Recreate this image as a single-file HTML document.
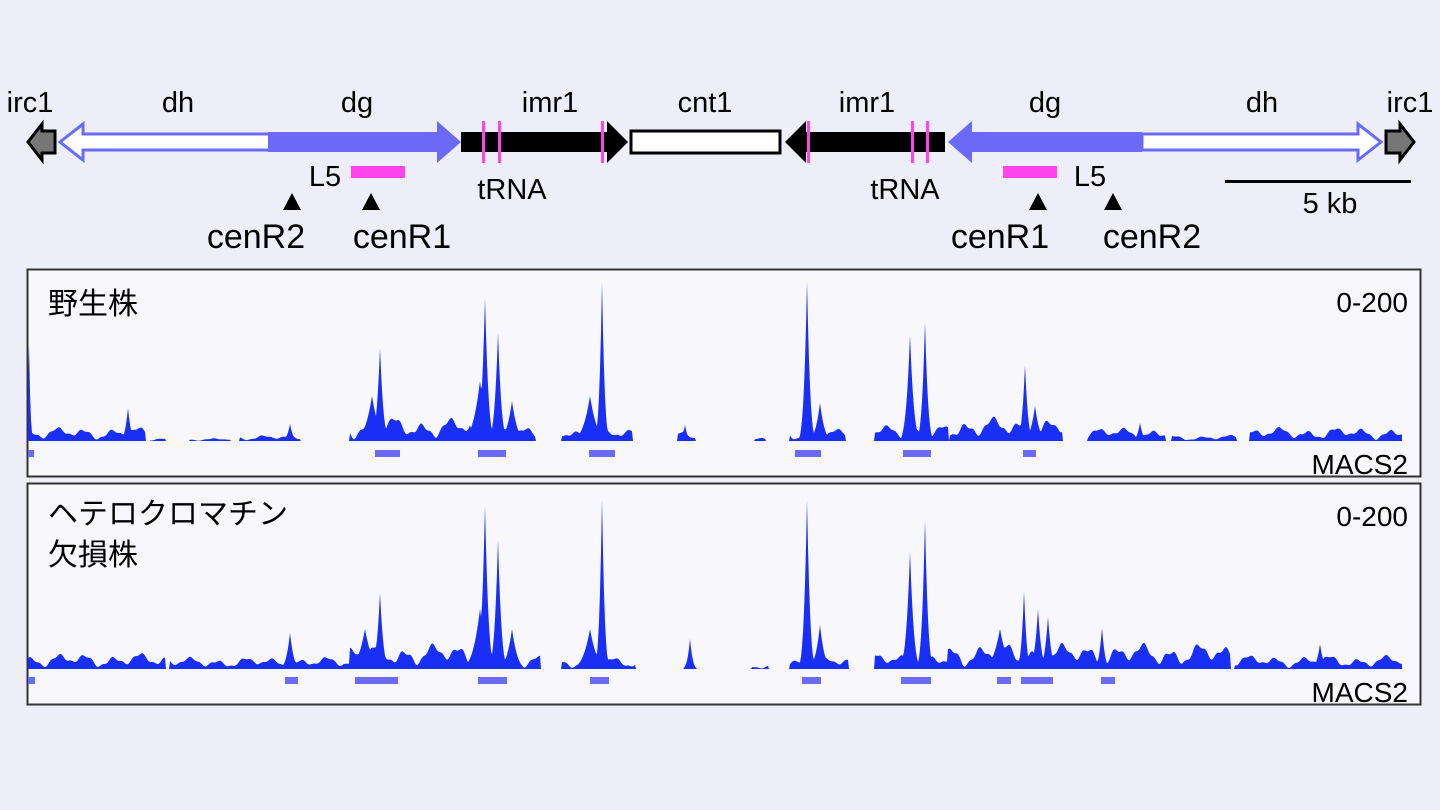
<!DOCTYPE html>
<html><head><meta charset="utf-8"><style>
body{margin:0;width:1440px;height:810px;background:#eeeef8;overflow:hidden;font-family:"Liberation Sans","Noto Sans CJK JP",sans-serif;}
svg{position:absolute;left:0;top:0}
text{font-family:"Liberation Sans","Noto Sans CJK JP",sans-serif;fill:#000}
</style></head><body>
<svg width="1440" height="810" viewBox="0 0 1440 810" xmlns="http://www.w3.org/2000/svg">
<g font-size="29" text-anchor="middle">
<text x="30" y="112">irc1</text><text x="178" y="112">dh</text><text x="357" y="112">dg</text>
<text x="550" y="112">imr1</text><text x="705" y="112">cnt1</text><text x="867" y="112">imr1</text>
<text x="1045" y="112">dg</text><text x="1262" y="112">dh</text><text x="1410" y="112">irc1</text>
<text x="325" y="186">L5</text><text x="512" y="199">tRNA</text>
<text x="905" y="199">tRNA</text><text x="1090" y="186">L5</text>
<text x="1330" y="213">5 kb</text>
</g>
<g font-size="34" text-anchor="middle">
<text x="256" y="248">cenR2</text><text x="402" y="248">cenR1</text>
<text x="1000" y="248">cenR1</text><text x="1152" y="248">cenR2</text>
</g>
<polygon points="55,131 42,131 42,124 28,142 42,160 42,153 55,153" fill="#777" stroke="#000" stroke-width="3"/>
<polygon points="270,134 83,134 83,124 60,142 83,160 83,150 270,150" fill="#fff" stroke="#6a6af7" stroke-width="3"/>
<polygon points="268,132 437,132 437,121 461,142 437,163 437,152 268,152" fill="#6a6af7"/>
<polygon points="461,132 607,132 607,121 628,142 607,163 607,152 461,152" fill="#000"/>
<rect x="482" y="121" width="3" height="42" fill="#ff44ee"/><rect x="498" y="121" width="3" height="42" fill="#ff44ee"/><rect x="601" y="121" width="3" height="42" fill="#ff44ee"/>
<rect x="631" y="131" width="149" height="22" fill="#fff" stroke="#000" stroke-width="3"/>
<polygon points="945,132 806,132 806,121 785,142 806,163 806,152 945,152" fill="#000"/>
<rect x="807" y="121" width="3" height="42" fill="#ff44ee"/><rect x="911" y="121" width="3" height="42" fill="#ff44ee"/><rect x="926" y="121" width="3" height="42" fill="#ff44ee"/>
<polygon points="1142,132 972,132 972,121 948,142 972,163 972,152 1142,152" fill="#6a6af7"/>
<polygon points="1142,134 1358,134 1358,124 1381,142 1358,160 1358,150 1142,150" fill="#fff" stroke="#6a6af7" stroke-width="3"/>
<polygon points="1386,131 1400,131 1400,124 1414,142 1400,160 1400,153 1386,153" fill="#777" stroke="#000" stroke-width="3"/>
<rect x="351" y="166" width="54" height="12" fill="#ff44ee"/>
<rect x="1003" y="166" width="54" height="12" fill="#ff44ee"/>
<polygon points="292,193 283,210 301,210" fill="#000"/><polygon points="371,193 362,210 380,210" fill="#000"/>
<polygon points="1038,193 1029,210 1047,210" fill="#000"/><polygon points="1113,193 1104,210 1122,210" fill="#000"/>
<rect x="1225" y="180" width="186" height="3" fill="#000"/>
<rect x="27.5" y="269.5" width="1393" height="207" fill="#f8f8fc" stroke="#333" stroke-width="2"/>
<rect x="27.5" y="483.5" width="1393" height="221" fill="#f8f8fc" stroke="#333" stroke-width="2"/>
<g font-size="30"><text x="48" y="314">野生株</text><text x="48" y="524">ヘテロクロマチン</text><text x="48" y="565">欠損株</text></g>
<g font-size="28" text-anchor="end"><text x="1408" y="312">0-200</text><text x="1408" y="526">0-200</text>
<text x="1408" y="474">MACS2</text><text x="1408" y="702">MACS2</text></g>
<path id="t1" fill="#1a2ff5"/>
<path id="t2" fill="#1a2ff5"/>
<g fill="#6a6af7">
<rect x="28" y="450" width="6" height="7"/><rect x="375" y="450" width="25" height="7"/><rect x="478" y="450" width="28" height="7"/><rect x="589" y="450" width="26" height="7"/><rect x="795" y="450" width="26" height="7"/><rect x="903" y="450" width="28" height="7"/><rect x="1023" y="450" width="13" height="7"/>
<rect x="28" y="677" width="7" height="7"/><rect x="285" y="677" width="13" height="7"/><rect x="355" y="677" width="43" height="7"/><rect x="478" y="677" width="29" height="7"/><rect x="590" y="677" width="19" height="7"/><rect x="802" y="677" width="19" height="7"/><rect x="901" y="677" width="30" height="7"/><rect x="997" y="677" width="14" height="7"/><rect x="1021" y="677" width="32" height="7"/><rect x="1101" y="677" width="14" height="7"/>
</g>
</svg>
<script>
function noise(x,s){return 0.55+0.25*Math.sin(x*0.23+s)+0.15*Math.sin(x*0.091+s*2)+0.08*Math.sin(x*0.61+s*3);}
function build(id,base,regs,peaks,seed){
  var d="M28,"+base;
  for(var x=28;x<=1402;x++){
    var h=0;
    for(var i=0;i<regs.length;i++){var r=regs[i];if(x>=r[0]&&x<=r[1]){h=Math.max(h,r[2]*noise(x,seed+i));}}
    for(var j=0;j<peaks.length;j++){var p=peaks[j];var dx=Math.abs(x-p[0]);if(dx<p[2]){var t=dx/p[2];h=Math.max(h,p[1]*(0.75*Math.pow(1-t,3)+0.25*(1-t)));}}
    d+=" L"+x+","+(base-h).toFixed(1);
  }
  d+=" L1402,"+base+" Z";
  document.getElementById(id).setAttribute("d",d);
}
build("t1",441,[[28,145,14],[150,165,3],[190,230,3],[240,300,6],[350,470,24],[472,535,16],[562,632,12],[678,695,10],[755,765,4],[790,845,12],[875,948,16],[950,1062,24],[1088,1165,14],[1172,1236,6],[1250,1402,14]],
 [[29,96,4],[128,33,8],[290,17,8],[380,93,9],[372,45,18],[485,143,9],[498,108,9],[480,60,18],[512,40,14],[602,159,7],[590,45,18],[685,16,7],[807,160,8],[820,38,12],[910,106,10],[925,119,8],[1025,76,8],[1035,35,12],[1140,18,8]],1);
build("t2",669,[[28,165,16],[170,350,12],[350,470,26],[472,540,16],[562,635,12],[752,768,5],[790,848,12],[875,948,16],[948,1230,26],[1235,1402,14]],
 [[290,36,10],[380,76,9],[365,40,18],[485,163,9],[498,129,9],[480,60,18],[512,40,14],[602,170,7],[590,40,18],[690,30,7],[807,169,8],[820,44,12],[910,117,10],[925,149,8],[1000,40,18],[1024,78,7],[1038,60,9],[1048,52,9],[1102,41,8],[1320,25,9]],7);
</script>
</body></html>
